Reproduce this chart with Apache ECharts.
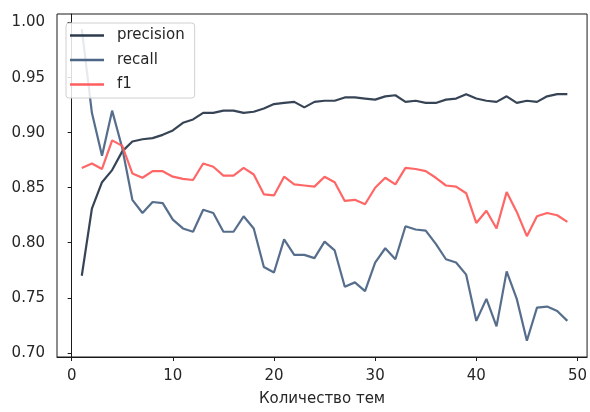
<!DOCTYPE html>
<html>
<head>
<meta charset="utf-8">
<script src="https://cdn.jsdelivr.net/npm/echarts@6/dist/echarts.min.js"></script>
<style>
html,body{margin:0;padding:0;background:#fff;}
#chart{width:590px;height:412px;}
</style>
</head>
<body>
<div id="chart"></div>
<script>
var topics = [];
for (var i = 1; i <= 49; i++) topics.push(i);

var precision = [0.770, 0.831, 0.855, 0.866, 0.883, 0.892, 0.894, 0.895, 0.898, 0.902,
  0.909, 0.912, 0.918, 0.918, 0.920, 0.920, 0.918, 0.919, 0.922, 0.926,
  0.927, 0.928, 0.923, 0.928, 0.929, 0.929, 0.932, 0.932, 0.931, 0.930,
  0.933, 0.934, 0.928, 0.929, 0.927, 0.927, 0.930, 0.931, 0.935, 0.931,
  0.929, 0.928, 0.933, 0.927, 0.929, 0.928, 0.933, 0.935, 0.935];

var recall = [0.994, 0.918, 0.879, 0.920, 0.886, 0.839, 0.827, 0.837, 0.836, 0.821,
  0.813, 0.810, 0.830, 0.827, 0.810, 0.810, 0.824, 0.813, 0.778, 0.773,
  0.803, 0.789, 0.789, 0.786, 0.801, 0.793, 0.760, 0.764, 0.756, 0.782,
  0.795, 0.785, 0.815, 0.812, 0.811, 0.799, 0.785, 0.782, 0.771, 0.729,
  0.749, 0.724, 0.774, 0.749, 0.711, 0.741, 0.742, 0.738, 0.729];

var f1 = [0.868, 0.872, 0.867, 0.893, 0.888, 0.863, 0.859, 0.865, 0.865, 0.860,
  0.858, 0.857, 0.872, 0.869, 0.861, 0.861, 0.868, 0.862, 0.844, 0.843,
  0.860, 0.853, 0.852, 0.851, 0.860, 0.855, 0.838, 0.839, 0.835, 0.850,
  0.859, 0.853, 0.868, 0.867, 0.865, 0.859, 0.852, 0.851, 0.845, 0.818,
  0.829, 0.813, 0.846, 0.828, 0.806, 0.824, 0.827, 0.825, 0.819];

var xTicks = [0, 10, 20, 30, 40, 50];
var yTicks = [0.70, 0.75, 0.80, 0.85, 0.90, 0.95, 1.00];
var seriesNames = ['precision', 'recall', 'f1'];
var colors = ['#2c3a4d', '#4d6686', '#ff5e5e'];
var xName = 'Количество тем';

function pairs(arr) {
  return arr.map(function (v, i) { return [topics[i], v]; });
}

var font = 'DejaVu Sans';
var textColor = '#262626';
var chart = echarts.init(document.getElementById('chart'), null, {renderer: 'canvas'});
var seriesData = [precision, recall, f1];

chart.setOption({
  animation: false,
  backgroundColor: '#fff',
  color: colors,
  grid: {
    left: 57, top: 14, right: 1, bottom: 49,
    show: true, borderColor: '#1a1a1a', borderWidth: 1, backgroundColor: 'transparent'
  },
  legend: {
    orient: 'vertical',
    left: 66, top: 23,
    padding: [5, 10, 6, 4],
    itemGap: 9.5,
    itemWidth: 34, itemHeight: 2.5,
    icon: 'rect',
    backgroundColor: 'rgba(255,255,255,0.85)',
    borderColor: '#d0d0d0', borderWidth: 1, borderRadius: 3,
    textStyle: {fontFamily: font, fontSize: 15, color: textColor, lineHeight: 15, padding: [0, 0, 0, 8]},
    data: seriesNames
  },
  xAxis: {
    type: 'value',
    min: -1.45, max: 50.95,
    name: xName,
    nameLocation: 'middle',
    nameGap: 35,
    nameTextStyle: {fontFamily: font, fontSize: 15, color: textColor},
    axisLine: {show: true, onZero: false, lineStyle: {color: '#1a1a1a', width: 1}},
    axisTick: {show: true, length: 4, customValues: xTicks, lineStyle: {color: '#1a1a1a'}},
    axisLabel: {customValues: xTicks, margin: 12, fontFamily: font, fontSize: 15, color: textColor},
    splitLine: {show: false}
  },
  yAxis: {
    type: 'value',
    min: 0.6962, max: 1.0078,
    axisLine: {show: true, lineStyle: {color: '#1a1a1a', width: 1}},
    axisTick: {show: true, length: 4, customValues: yTicks, lineStyle: {color: '#1a1a1a'}},
    axisLabel: {
      customValues: yTicks, margin: 12, fontFamily: font, fontSize: 15, color: textColor,
      formatter: function (v) { return v.toFixed(2); }
    },
    splitLine: {show: false}
  },
  series: seriesNames.map(function (name, k) {
    return {
      name: name,
      type: 'line',
      data: pairs(seriesData[k]),
      showSymbol: false,
      symbol: 'none',
      lineStyle: {width: 2.2, color: colors[k], opacity: 0.95},
      itemStyle: {color: colors[k]},
      z: 2 + k
    };
  })
});
</script>
</body>
</html>
